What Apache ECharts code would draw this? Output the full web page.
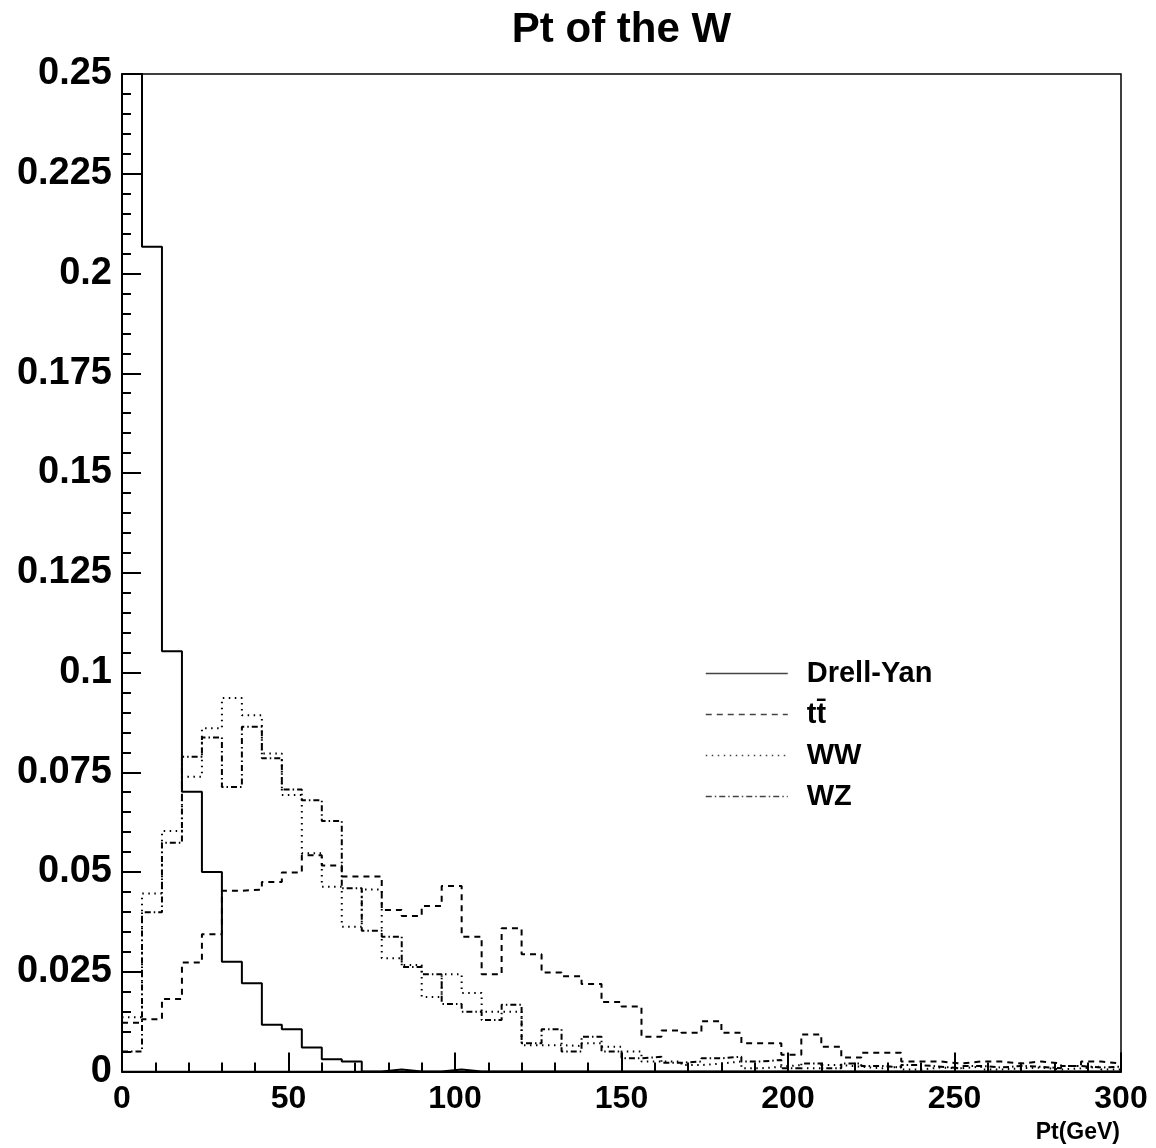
<!DOCTYPE html>
<html>
<head>
<meta charset="utf-8">
<script src="https://cdn.jsdelivr.net/npm/echarts@6/dist/echarts.min.js"></script>
<style>
  html, body { margin: 0; padding: 0; background: #fff; }
  #chart { width: 1156px; height: 1148px; }
</style>
</head>
<body>
<div id="chart"></div>
<script>
// ---- data (bin width 6 GeV, 50 bins from 0 to 300 GeV) ----
const binWidth = 6;
const xMin = 0;
const xMax = 300;
const xTickInterval = 50;
const yMin = 0;
const yMax = 0.25;
const yTickInterval = 0.025;

const seriesNames = ['Drell-Yan', 't\u0074\u0304', 'WW', 'WZ'];

const drellYan = [0.32, 0.2067, 0.1053, 0.0701, 0.0500, 0.0275, 0.0221, 0.0117, 0.0106, 0.0060,
                  0.0031, 0.0025, 0, 0.0005, 0, 0, 0.0005, 0, 0, 0,
                  0, 0, 0, 0, 0, 0, 0, 0, 0, 0,
                  0, 0, 0, 0, 0, 0, 0, 0, 0, 0,
                  0, 0, 0, 0, 0, 0, 0, 0, 0, 0];

const ttbar = [0.0122, 0.0131, 0.0182, 0.0273, 0.0344, 0.0453, 0.0456, 0.0475, 0.0499, 0.0542,
               0.0516, 0.0489, 0.0489, 0.0405, 0.0390, 0.0415, 0.0465, 0.0338, 0.0244, 0.0359,
               0.0294, 0.0248, 0.0239, 0.0219, 0.0174, 0.0163, 0.0087, 0.0103, 0.0097, 0.0126,
               0.0097, 0.0071, 0.0071, 0.0042, 0.0093, 0.0062, 0.0035, 0.0047, 0.0047, 0.0025,
               0.0025, 0.0020, 0.0025, 0.0025, 0.0020, 0.0025, 0.0020, 0.0014, 0.0025, 0.0020];

const ww = [0.0136, 0.0446, 0.0603, 0.0739, 0.0860, 0.0936, 0.0893, 0.0797, 0.0693, 0.0547,
            0.0463, 0.0363, 0.0456, 0.0284, 0.0267, 0.0187, 0.0244, 0.0197, 0.0150, 0.0150,
            0.0066, 0.0066, 0.0064, 0.0071, 0.0062, 0.0050, 0.0025, 0.0025, 0.0016, 0.0020,
            0.0025, 0.0008, 0.0012, 0.0016, 0.0008, 0.0016, 0.0012, 0.0008, 0.0012, 0.0005,
            0.0010, 0.0008, 0.0012, 0.0005, 0.0008, 0.0010, 0.0005, 0.0008, 0.0012, 0.0005];

const wz = [0.0050, 0.0399, 0.0573, 0.0789, 0.0837, 0.0713, 0.0864, 0.0785, 0.0707, 0.0680,
            0.0628, 0.0459, 0.0353, 0.0338, 0.0262, 0.0244, 0.0169, 0.0150, 0.0129, 0.0167,
            0.0071, 0.0106, 0.0050, 0.0087, 0.0050, 0.0033, 0.0037, 0.0022, 0.0025, 0.0033,
            0.0037, 0.0025, 0.0029, 0.0008, 0.0020, 0.0008, 0.0020, 0.0014, 0.0010, 0.0016,
            0.0012, 0.0008, 0.0014, 0.0010, 0.0014, 0.0012, 0.0008, 0.0014, 0.0010, 0.0012];

// ---- build step points: [lowEdge, content] per bin + closing point at upper edge ----
function histPoints(values) {
  const pts = values.map((v, i) => [xMin + i * binWidth, v]);
  pts.push([xMin + values.length * binWidth, values[values.length - 1]]);
  return pts;
}

const FONT = "'Liberation Sans', Arial, Helvetica, sans-serif";

const chart = echarts.init(document.getElementById('chart'), null, { renderer: 'canvas' });

function histSeries(name, values, type) {
  return {
    name: name,
    type: 'line',
    step: 'end',
    data: histPoints(values),
    symbol: 'none',
    showSymbol: false,
    clip: true,
    animation: false,
    itemStyle: { color: '#000' },
    lineStyle: { color: '#000', width: 2, type: type },
    emphasis: { disabled: true }
  };
}

const option = {
  backgroundColor: '#fff',
  animation: false,
  title: [
    {
      text: 'Pt of the W',
      left: 621.5,
      top: 9,
      padding: 0,
      textAlign: 'center',
      textStyle: { fontFamily: FONT, fontWeight: 'bold', fontSize: 42, color: '#000' }
    },
    {
      text: 'Pt(GeV)',
      right: 36,
      top: 1121,
      padding: 0,
      textStyle: { fontFamily: FONT, fontWeight: 'bold', fontSize: 23, color: '#000' }
    }
  ],
  legend: {
    orient: 'vertical',
    left: 705,
    top: 659,
    padding: 0,
    itemWidth: 82,
    itemHeight: 20,
    itemGap: 12,
    selectedMode: false,
    data: seriesNames,
    textStyle: {
      fontFamily: FONT, fontWeight: 'bold', fontSize: 29, color: '#000',
      padding: [0, 0, 0, 14]
    },
    itemStyle: { opacity: 0, color: 'transparent', borderWidth: 0 },
    lineStyle: { width: 1.5, color: '#444' }
  },
  grid: {
    left: 122,
    right: 35,
    top: 74,
    bottom: 76.5,
    show: true,
    borderColor: '#000',
    borderWidth: 1.5,
    backgroundColor: 'transparent'
  },
  xAxis: {
    type: 'value',
    min: xMin,
    max: xMax,
    interval: xTickInterval,
    axisLine: { show: true, onZero: false, lineStyle: { color: '#000', width: 2 } },
    axisTick: { show: true, inside: true, length: 19, lineStyle: { color: '#000', width: 2 } },
    minorTick: { show: true, splitNumber: 5, length: 9, lineStyle: { color: '#000', width: 2 } },
    splitLine: { show: false },
    axisLabel: {
      margin: 12,
      fontFamily: FONT, fontWeight: 'bold', fontSize: 32, color: '#000'
    }
  },
  yAxis: {
    type: 'value',
    min: yMin,
    max: yMax,
    interval: yTickInterval,
    axisLine: { show: true, onZero: false, lineStyle: { color: '#000', width: 2 } },
    axisTick: { show: true, inside: true, length: 19, lineStyle: { color: '#000', width: 2 } },
    minorTick: { show: true, splitNumber: 5, length: 9, lineStyle: { color: '#000', width: 2 } },
    splitLine: { show: false },
    axisLabel: {
      margin: 10,
      fontFamily: FONT, fontWeight: 'bold', fontSize: 38, color: '#000'
    }
  },
  series: [
    histSeries(seriesNames[0], drellYan, 'solid'),
    histSeries(seriesNames[1], ttbar, [6, 5]),
    histSeries(seriesNames[2], ww, [1.5, 4.5]),
    histSeries(seriesNames[3], wz, [6, 3, 1.5, 3])
  ]
};

chart.setOption(option);
</script>
</body>
</html>
